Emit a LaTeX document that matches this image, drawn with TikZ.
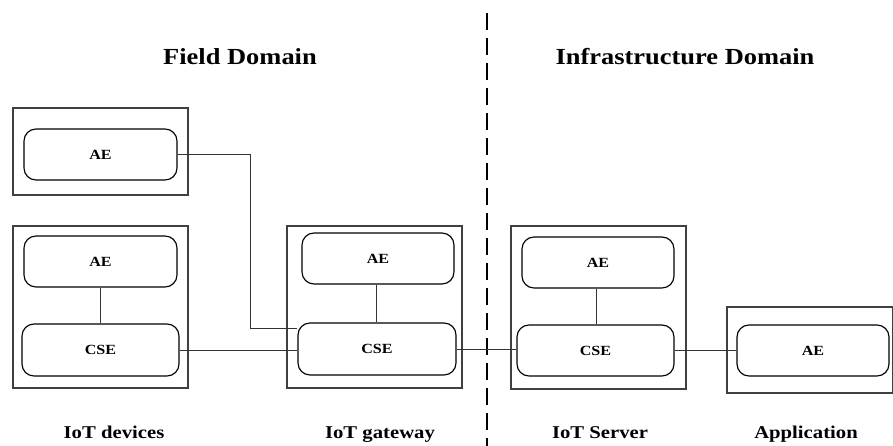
\documentclass[tikz,border=0pt]{standalone}
\usepackage{fontspec}
\setmainfont[FakeStretch=1.15]{Liberation Serif}
\usetikzlibrary{calc}
\begin{document}
\begin{tikzpicture}[x=1pt,y=-1pt,
  outerbox/.style={draw=black!75,line width=1.1pt},
  inner/.style={draw=black,line width=1.15pt,rounded corners=12pt,inner sep=0pt,
     font=\bfseries\fontsize{14}{16}\selectfont},
  conn/.style={draw=black!80,line width=0.9pt},
  title/.style={anchor=base,font=\bfseries\fontsize{23}{27}\selectfont},
  caption/.style={anchor=base,font=\bfseries\fontsize{18}{21}\selectfont}]
\useasboundingbox (0,0) rectangle (893,446);
\begin{scope}
\clip (0,0) rectangle (893,446);
% outer boxes
\draw[outerbox] (13,108) rectangle (188,195);
\draw[outerbox] (13,226) rectangle (188,388);
\draw[outerbox] (287,226) rectangle (462,388);
\draw[outerbox] (511,226) rectangle (686,389);
\draw[outerbox] (727,307) rectangle (893,393);
\end{scope}
% dashed divider
\coordinate (dtop) at (487,13);
\coordinate (dbot) at (487,446);
\draw[black,line width=1.3pt,dash pattern=on 17pt off 8pt] (dtop) -- (dbot);
% inner nodes
\node[inner,minimum width=153pt,minimum height=51pt] (ae1) at (100.5,154.5) {AE};
\node[inner,minimum width=153pt,minimum height=51pt] (ae2) at (100.5,261.5) {AE};
\node[inner,minimum width=157pt,minimum height=52pt] (cse2) at (100.5,350) {CSE};
\node[inner,minimum width=152pt,minimum height=51pt] (ae3) at (378,258.5) {AE};
\node[inner,minimum width=158pt,minimum height=52pt] (cse3) at (377,349) {CSE};
\node[inner,minimum width=152pt,minimum height=51pt] (ae4) at (598,262.5) {AE};
\node[inner,minimum width=157pt,minimum height=51pt] (cse4) at (595.5,350.5) {CSE};
\node[inner,minimum width=152pt,minimum height=51pt] (ae5) at (813,350.5) {AE};
% connectors
\coordinate (j) at (250,328);
\draw[conn] (ae1.east) -| (j) -- (j -| cse3.west);
\draw[conn] (ae2.south) -- (cse2.north);
\draw[conn] (cse2.east) -- (cse2.east -| cse3.west);
\draw[conn] (ae3.south -| 376,0) -- (cse3.north -| 376,0);
\draw[conn] (cse3.east) -- (cse3.east -| cse4.west);
\draw[conn] (ae4.south -| 596,0) -- (cse4.north -| 596,0);
\draw[conn] (cse4.east) -- (ae5.west);
% titles
\node[title] (tfield) at (240,65) {Field Domain};
\node[title] (tinfra) at (685,65) {Infrastructure Domain};
% captions
\node[caption] (cdev) at (114,438) {IoT devices};
\node[caption] (cgw) at (380,438) {IoT gateway};
\node[caption] (csrv) at (600,438) {IoT Server};
\node[caption] (capp) at (806,438) {Application};
\end{tikzpicture}
\end{document}
